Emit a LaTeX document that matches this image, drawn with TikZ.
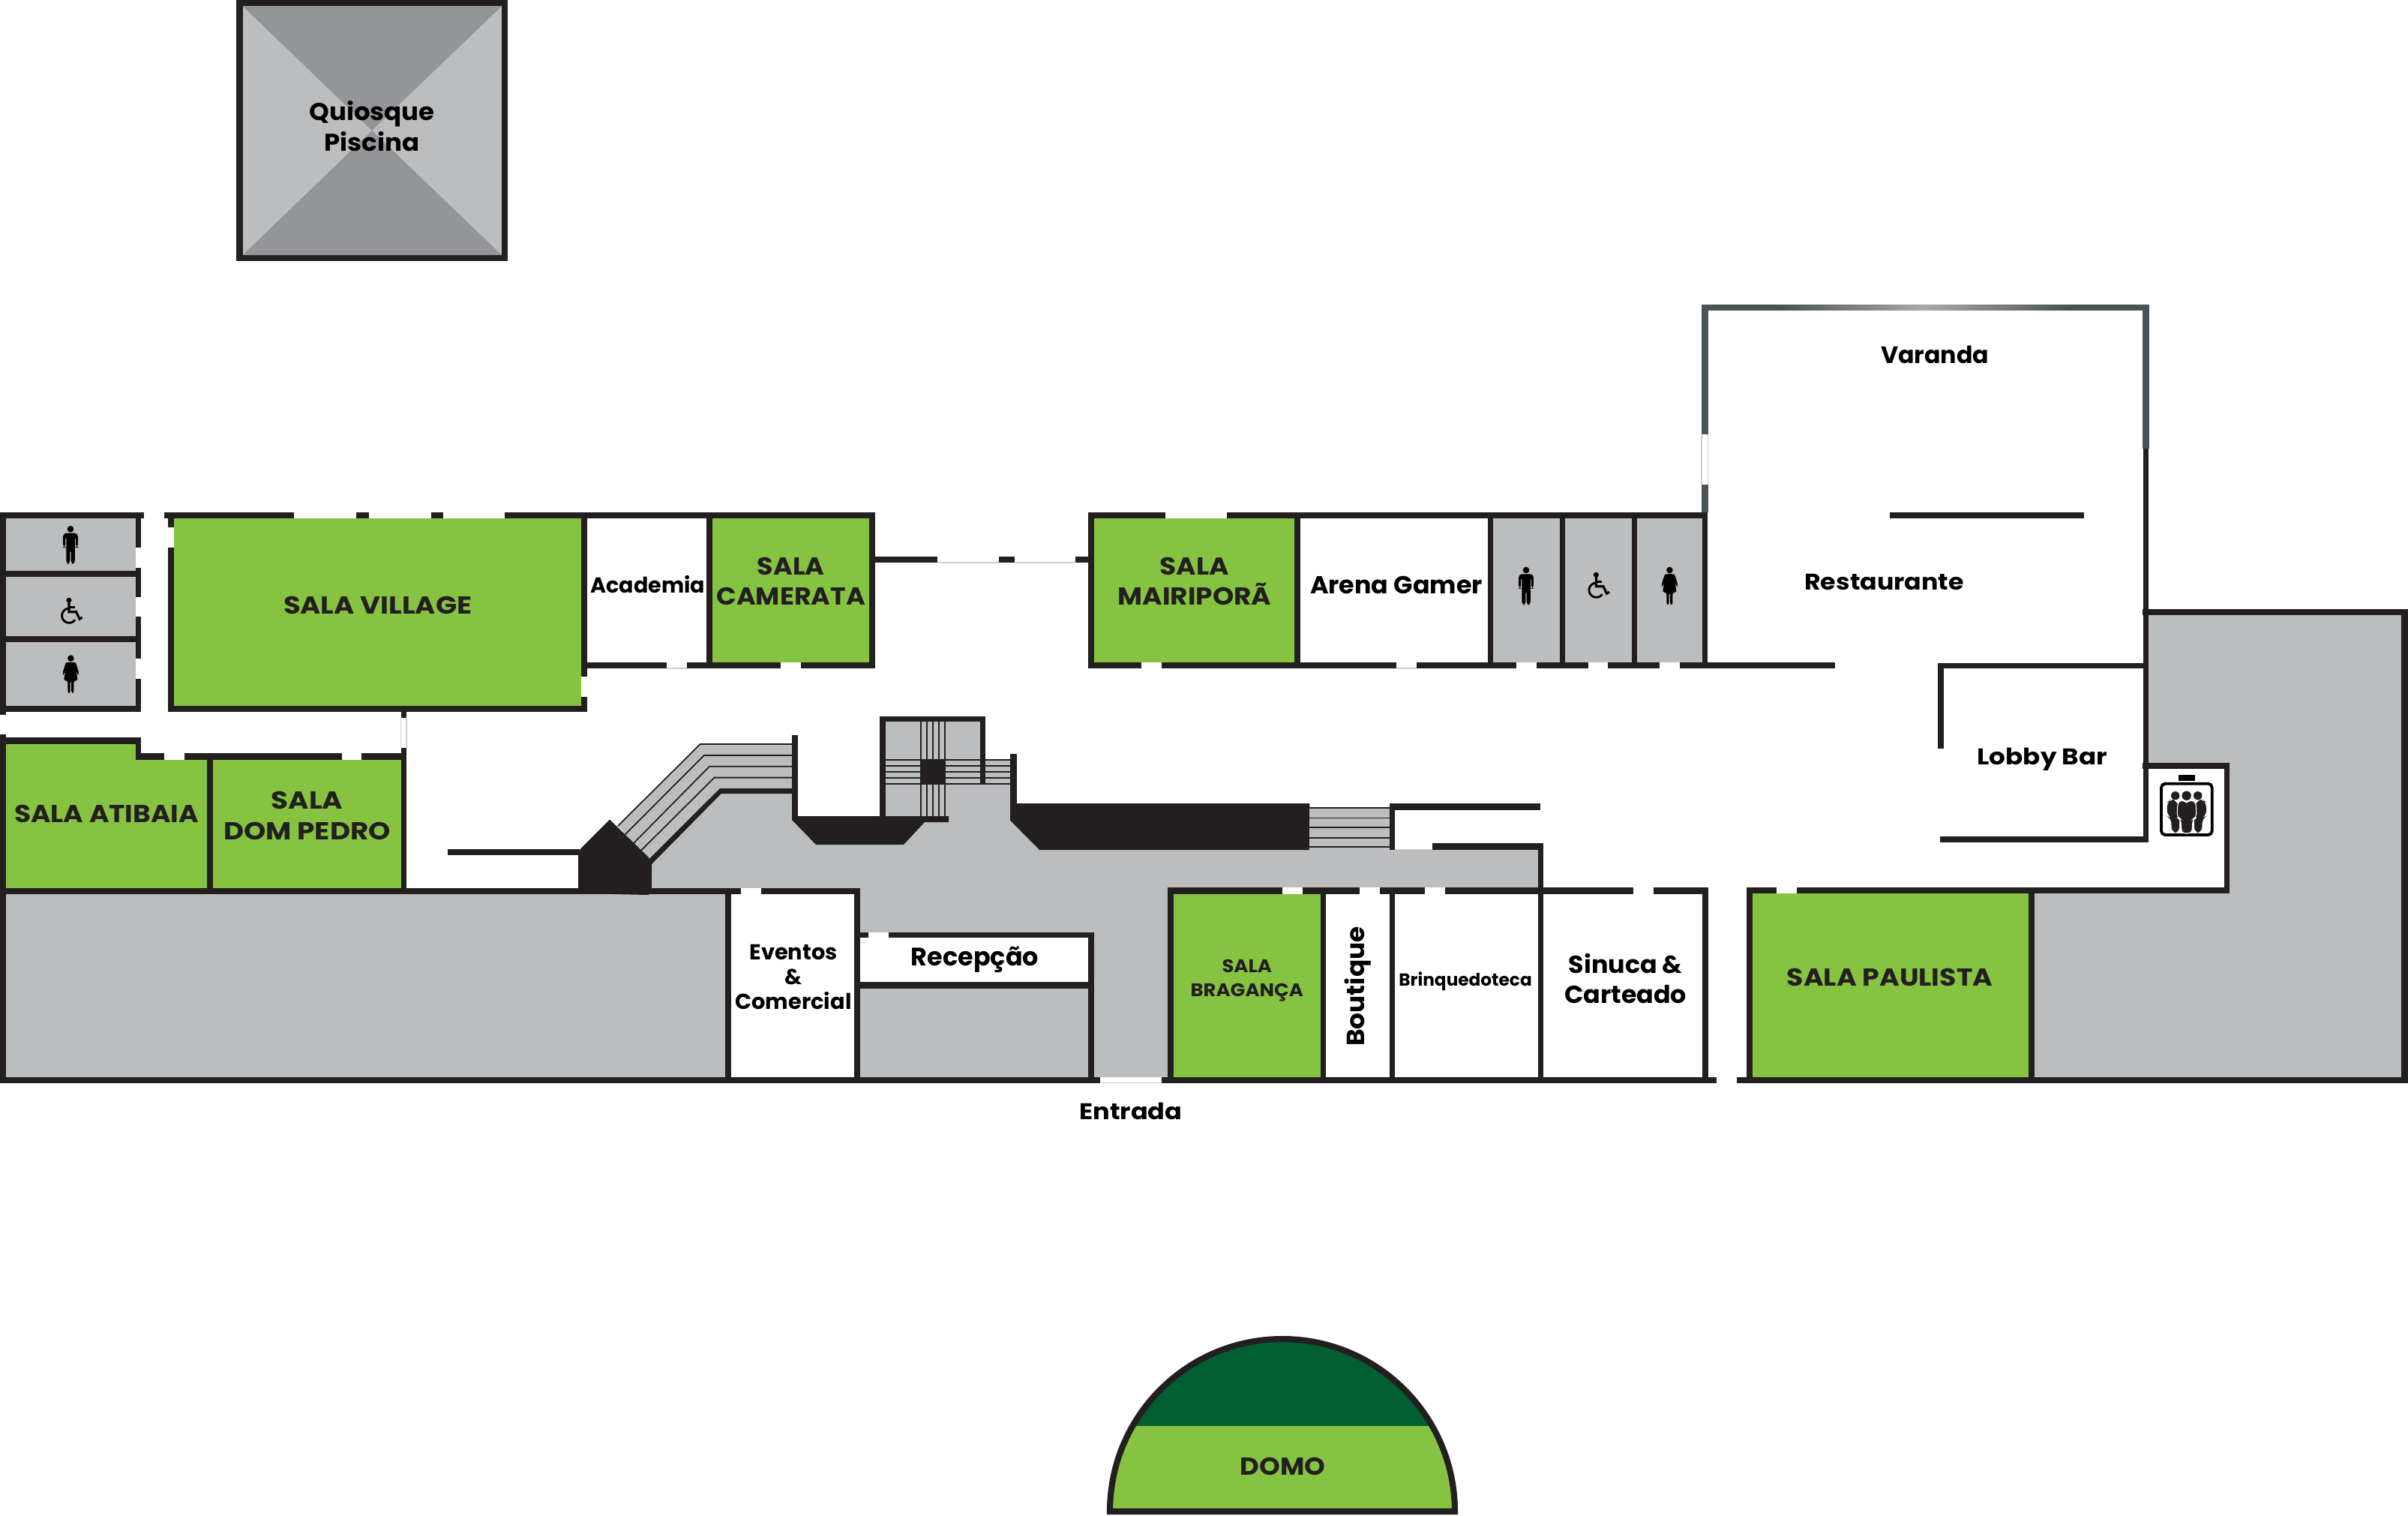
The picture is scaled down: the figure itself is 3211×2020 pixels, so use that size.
\documentclass[tikz,border=0pt]{standalone}
\usepackage{fontspec}
\setmainfont{Poppins Bold}
\definecolor{wallc}{HTML}{231F20}
\definecolor{grayc}{HTML}{BCBDBF}
\definecolor{darkg}{HTML}{939598}
\definecolor{lime}{HTML}{85C341}
\definecolor{forest}{HTML}{005E30}
\definecolor{slate}{HTML}{4A5356}
\definecolor{silver}{HTML}{A9AAAC}
\definecolor{edge}{HTML}{CFCFCF}
\newcommand{\fsz}[3]{\fontsize{#1}{#2}\addfontfeature{FakeStretch=#3}\selectfont}
\newcommand{\wl}[4]{\fill[wallc] (#1,#2) rectangle (#3,#4);}
\newcommand{\slw}[4]{\fill[slate] (#1,#2) rectangle (#3,#4);}
\newcommand{\gp}[4]{\fill[white] (#1,#2) rectangle (#3,#4);}
\newcommand{\gpl}[4]{\fill[white] (#1,#2) rectangle (#3,#4); \draw[edge,line width=.35pt] (#1,#4) -- (#3,#4);}
\newcommand{\gpv}[4]{\fill[white] (#1,#2) rectangle (#3,#4); \draw[edge,line width=.35pt] (#1,#2) -- (#1,#4) (#3,#2) -- (#3,#4);}
\newcommand{\gr}[4]{\fill[grayc] (#1,#2) rectangle (#3,#4);}
\newcommand{\gn}[4]{\fill[lime] (#1,#2) rectangle (#3,#4);}
\tikzset{
  x=0.01cm,y=-0.01cm,
  lab/.style={inner sep=0pt,anchor=base,align=center,text=wallc},
  blk/.style={inner sep=0pt,anchor=base,align=center,text=black},
  steph/.style={wallc,line width=.5pt},
  man/.pic={
    \fill[black] (0,4.3) circle[radius=4.3];
    \fill[black,rounded corners=1.2] (-9.8,9.7) -- (9.8,9.7) -- (9.8,29) -- (6.9,29) -- (6.9,13) -- (5.8,13) -- (5.8,50.7) -- (.6,50.7) -- (.6,31) -- (-.6,31) -- (-.6,50.7) -- (-5.6,50.7) -- (-5.6,13) -- (-6.9,13) -- (-6.9,29) -- (-9.8,29) -- cycle;
  },
  woman/.pic={
    \fill[black] (0,4.3) circle[radius=4.3];
    \fill[black,rounded corners=.8] (-5,9.5) -- (5,9.5) -- (7,11) -- (11.2,25) -- (9,26.5) -- (6.5,18) -- (9.5,34) -- (4,34) -- (4,50.5) -- (.7,50.5) -- (.7,34) -- (-.7,34) -- (-.7,50.5) -- (-4,50.5) -- (-4,34) -- (-9.5,34) -- (-6.5,18) -- (-9,26.5) -- (-11.2,25) -- (-7,11) -- cycle;
  },
  wheel/.pic={
    \fill[black] (-3.6,3.5) circle[radius=3.5];
    \draw[black,line width=.9pt] (-3.6,5) -- (-3.6,19) -- (6,19) -- (10.5,28.5) -- (14,26.5);
    \draw[black,line width=.8pt] (-3.6,13) -- (4,13);
    \draw[black,line width=.8pt] plot[smooth,domain=35:262,samples=24] ({-3.4+9.6*cos(\x)},{24+9.6*sin(\x)});
  },
}
\begin{document}
\begin{tikzpicture}
\useasboundingbox (0,0) rectangle (3211,2020);
\fill[white] (0,0) rectangle (3211,2020);

% ----- Quiosque
\fill[wallc] (315.3,0) rectangle (677,348.3);
\fill[grayc] (323.7,8.3) rectangle (669,340);
\fill[darkg] (323.7,8.3) -- (669,8.3) -- (496,174) -- cycle;
\fill[darkg] (323.7,340) -- (669,340) -- (496,174) -- cycle;
\node[blk,font=\fsz{9.2}{11.4}{1.05}] (quiosque) at (496,201) {Quiosque\\Piscina};

% ----- gray and green floors
\gr{8}{691}{181}{761} \gr{8}{769}{181}{848} \gr{8}{856}{181}{941}
\gn{232}{691}{775}{941}
\fill[lime] (8,991.6) -- (181,991.6) -- (181,1012.5) -- (276,1012.5) -- (276,1184) -- (8,1184) -- cycle;
\gn{284}{1012.5}{535}{1184}
\gr{8}{1191}{967}{1436}
\gr{1147}{1317}{1451}{1436}
\gn{950}{691}{1160}{884}
\gn{1459}{691}{1726}{884}
\gr{1991}{691}{2080}{884} \gr{2087}{691}{2176}{884} \gr{2182}{691}{2271}{884}
\fill[grayc] (869,1152) -- (961.7,1058) -- (1056,1058) -- (1056,1093) -- (1088,1126) -- (1205,1126) -- (1233,1096) -- (1265,1096) -- (1265,1045) -- (1348,1045) -- (1348,1094) -- (1386,1133) -- (2051,1133) -- (2051,1184) -- (1557,1184) -- (1557,1436) -- (1459,1436) -- (1459,1243) -- (1147,1243) -- (1147,1184) -- (869,1184) -- cycle;
\gn{1564.8}{1191}{1761}{1436}
\gn{2336.5}{1191}{2705}{1436}
\fill[grayc] (2865,819.6) -- (3203,819.6) -- (3203,1436) -- (2712,1436) -- (2712,1191) -- (2972,1191) -- (2972,1017) -- (2865,1017) -- cycle;

% ----- stairs, left flight
\fill[grayc] (824,1101) -- (933.7,992) -- (1057,992) -- (1057,1058) -- (961,1058) -- (869,1152) -- cycle;
\draw[steph] (824,1101) -- (933.7,992) -- (1057,992);
\draw[steph] (833.7,1112.4) -- (938.8,1007) -- (1057,1007);
\draw[steph] (845,1124) -- (946,1021.7) -- (1057,1021.7);
\draw[steph] (854.6,1134) -- (952.6,1036.6) -- (1057,1036.6);
\fill[wallc] (865.8,1145) -- (960,1051) -- (1057,1051) -- (1057,1058) -- (961.7,1058) -- (869,1152) -- cycle;
\fill[wallc] (771,1191) -- (771,1139.6) -- (774,1131.5) -- (813,1092.5) -- (865,1143) -- (869,1151) -- (869,1184) -- (865,1193) -- cycle;
\wl{1056}{979.6}{1064}{1093}
\fill[wallc] (1056,1093) -- (1088,1126) -- (1205,1126) -- (1233,1096) -- (1265,1096) -- (1265,1088) -- (1064,1088) -- (1056,1088) -- cycle;

% ----- stairs, central well
\gr{1181}{962}{1307}{1088}
\gr{1306}{1013}{1348}{1045}
\foreach \q in {1228,1236,1244,1252,1260} {\draw[wallc,line width=.55pt] (\q,962) -- (\q,1088);}
\foreach \q in {1013,1021,1029,1037,1045.4} {\draw[wallc,line width=.55pt] (1181,\q) -- (1348,\q);}
\fill[wallc] (1226.5,1013) rectangle (1260.7,1045.4);
\wl{1173}{954.7}{1314}{962.4} \wl{1173}{954.7}{1181}{1088} \wl{1306.6}{954.7}{1314}{1045.4}
\wl{1347.4}{1005}{1355.6}{1094}
\fill[wallc] (1347.4,1094) -- (1386,1133) -- (1746.4,1133) -- (1746.4,1071) -- (1355.6,1071) -- (1347.4,1071) -- cycle;

% ----- stairs, right flight
\gr{1746}{1077}{1853}{1133}
\foreach \q in {1077,1090.4,1103.3,1116.7,1129} {\draw[wallc,line width=.5pt] (1746,\q) -- (1853,\q);}

% ----- west wing walls
\wl{0}{683}{1167}{691}
\gp{192}{683}{219}{691} \gp{392}{683}{474.5}{691} \gp{492}{683}{574.5}{691} \gp{591}{683}{673}{691}
\wl{0}{683}{8}{1443.5} \gp{0}{953}{8}{979}
\wl{180.6}{691}{188.3}{949}
\gp{180.6}{730.4}{188.3}{757} \gp{180.6}{795.7}{188.3}{822} \gp{180.6}{878}{188.3}{905}
\wl{0}{761}{188}{769} \wl{0}{848}{188}{856} \wl{0}{940.6}{188}{949}
\wl{223.5}{683}{232}{949} \gp{223.5}{703}{232}{730}
\wl{223.5}{940.6}{783}{949}
\wl{775}{683}{783}{949} \gp{775}{902}{783}{929}
\wl{534.7}{949}{542}{1191} \gpv{534.7}{957}{542}{997}
\wl{0}{983}{188}{991.6} \wl{180.6}{983}{188.3}{1012.5}
\wl{180.6}{1004}{542}{1012.5} \gp{219}{1004}{246}{1012.5} \gp{455.6}{1004}{482}{1012.5}
\wl{276}{1004}{284}{1191}
\wl{0}{1183.5}{1147.4}{1191.6}
\wl{597}{1132}{773}{1140}
\wl{942}{683}{950}{891} \wl{1159.3}{683}{1167}{891}
\wl{783}{883.3}{1167}{891}
\gpl{888.7}{883.3}{915.7}{891} \gp{1041}{883.3}{1068}{891}
\wl{1167}{742}{1451}{750}
\gpl{1250}{742}{1332}{750} \gpl{1352.5}{742}{1434}{750}

% ----- bottom wall and south rooms
\wl{0}{1435.6}{3211}{1443.5}
\gpl{1466.8}{1435.6}{1549}{1443.5} \gp{2288.8}{1435.6}{2315.5}{1443.5}
\wl{966.8}{1183.6}{975}{1443} \wl{1139.3}{1183.6}{1147.4}{1443}
\gp{987.8}{1183.6}{1014.8}{1191.6}
\wl{1147}{1242.5}{1459}{1250} \gp{1158}{1242.5}{1185}{1250}
\wl{1147}{1309}{1459}{1317.5}
\wl{1451}{1242.5}{1459}{1443}
\wl{1557}{1183.3}{2278}{1191.7}
\gp{1710}{1183.3}{1737}{1191.7} \gp{1812.8}{1183.3}{1840}{1191.7} \gp{1899.5}{1183.3}{1926.5}{1191.7} \gp{2178.4}{1183.3}{2205}{1191.7}
\wl{1557}{1183}{1564.8}{1443} \wl{1761}{1183}{1768.4}{1443} \wl{1852.5}{1183}{1860}{1443} \wl{2050.5}{1183}{2058}{1443} \wl{2269.6}{1183}{2278}{1443}
\wl{1852.5}{1071}{1860}{1133} \wl{1852.5}{1071}{2054}{1079.5}
\wl{1910}{1124.4}{2058}{1132.8} \wl{2050.5}{1124.4}{2058}{1184}
\gpl{1860}{1124.4}{1910}{1132.8}

% ----- north-east wing walls
\wl{1451}{683}{2277}{691} \gp{1554}{683}{1636}{691}
\wl{1451}{883.3}{2447}{891}
\gp{1522}{883.3}{1549}{891} \gpl{1862}{883.3}{1889}{891} \gp{2022}{883.3}{2048.8}{891} \gp{2118}{883.3}{2144}{891} \gp{2212.7}{883.3}{2239.5}{891}
\wl{1451}{683}{1459}{891} \wl{1726}{683}{1734}{891} \wl{1983.6}{683}{1991}{891} \wl{2079.8}{683}{2087}{891} \wl{2176}{683}{2182.6}{891} \wl{2270.4}{683}{2277}{891}

% ----- varanda and restaurant
\slw{2269}{405.7}{2277.8}{683} \gpv{2269}{579}{2277.8}{645.7}
\slw{2857}{405.7}{2866}{598}
\slw{2269}{405.7}{2866}{414.3}
\foreach \i in {0,...,95} {
  \pgfmathsetmacro{\mx}{max(0,100-abs(\i-47.5)*100/48)}
  \pgfmathsetmacro{\xa}{2374+\i*4}
  \pgfmathsetmacro{\xb}{\xa+4.6}
  \fill[silver!\mx!slate] (\xa,405.7) rectangle (\xb,414.3);
}
\wl{2857.5}{598}{2865}{1123}
\wl{2520}{683}{2779}{691}
\wl{2584}{883.6}{2865}{891}
\wl{2584}{883.6}{2592}{998}
\wl{2587}{1115}{2865}{1123}

% ----- east wing walls
\wl{2857}{811.5}{3211}{819.6}
\wl{3202}{811.5}{3211}{1443.5}
\wl{2857}{1017}{2972.7}{1025}
\wl{2966}{1017}{2972.7}{1191}
\wl{2329}{1183.3}{2972.7}{1191} \gp{2369}{1183.3}{2396}{1191}
\wl{2329}{1183}{2336.5}{1443}
\wl{2705}{1183}{2712.7}{1443}

% ----- lift icon
\fill[black] (2905,1033.3) rectangle (2926.7,1041);
\draw[black,line width=1.1pt,rounded corners=1.5] (2882,1044.7) rectangle (2949.7,1113);
\fill[wallc,rounded corners=2] (2889.5,1070) -- (2894,1066) -- (2902,1066) -- (2906,1078) -- (2906,1110) -- (2896,1110) -- (2895,1090) -- (2890,1088) -- cycle;
\fill[wallc,rounded corners=2] (2942,1070) -- (2937.5,1066) -- (2930,1066) -- (2926,1078) -- (2926,1110) -- (2936,1110) -- (2937,1090) -- (2942,1088) -- cycle;
\fill[wallc,draw=white,line width=.3pt,rounded corners=1.5] (2904,1068) -- (2912,1066.5) -- (2915.7,1070) -- (2919.5,1066.5) -- (2928,1068) -- (2929,1090) -- (2924,1092) -- (2923,1111) -- (2909,1111) -- (2908,1092) -- (2903,1090) -- cycle;
\fill[wallc] (2900.7,1060.7) circle[radius=5.7];
\fill[wallc] (2930.7,1060.7) circle[radius=5.7];
\fill[wallc] (2915.7,1060.7) circle[radius=6.2];

% ----- toilets
\pic at (94,701) {man};
\pic at (95.6,796.7) {wheel};
\pic at (94.4,873.3) {woman};
\pic at (2035,755.7) {man};
\pic at (2132,762.7) {wheel};
\pic at (2226.4,755.7) {woman};

% ----- dome
\fill[lime] (1480,2015) .. controls (1480,1888) and (1583,1785) .. (1710,1785) .. controls (1837,1785) and (1940,1888) .. (1940,2015) -- cycle;
\begin{scope}
\clip (1470,1770) rectangle (1950,1900);
\fill[forest] (1480,2015) .. controls (1480,1888) and (1583,1785) .. (1710,1785) .. controls (1837,1785) and (1940,1888) .. (1940,2015) -- cycle;
\end{scope}
\draw[wallc,line width=2.3pt] (1480,2015) .. controls (1480,1888) and (1583,1785) .. (1710,1785) .. controls (1837,1785) and (1940,1888) .. (1940,2015) -- cycle;

% ----- labels
\node[lab,font=\fsz{9.3}{11.4}{1.13}] (village) at (503.6,818) {SALA VILLAGE};
\node[lab,font=\fsz{9.3}{11.4}{1.10}] (atibaia) at (142,1096) {SALA ATIBAIA};
\node[lab,font=\fsz{9.3}{11.4}{1.14}] (dompedro) at (409.5,1119) {SALA\\DOM PEDRO};
\node[blk,font=\fsz{8.2}{9.4}{0.99}] (academia) at (864,790.7) {Academia};
\node[lab,font=\fsz{9.3}{11.4}{1.07}] (camerata) at (1054.8,806.7) {SALA\\CAMERATA};
\node[lab,font=\fsz{9.3}{11.4}{1.10}] (mairipora) at (1593,806.7) {SALA\\MAIRIPORÃ};
\node[blk,font=\fsz{9.3}{11.4}{1.02}] (arena) at (1862,791) {Arena Gamer};
\node[blk,font=\fsz{8.6}{11.4}{1.10}] (restaurante) at (2512.5,786) {Restaurante};
\node[blk,font=\fsz{9.0}{11.4}{1.0}] (varanda) at (2580,484) {Varanda};
\node[blk,font=\fsz{8.6}{11.4}{1.13}] (lobby) at (2723.5,1019.5) {Lobby Bar};
\node[blk,font=\fsz{8.2}{9.4}{1.0}] (eventos) at (1058,1345.8) {Eventos\\\&\\Comercial};
\node[blk,font=\fsz{9.6}{11.4}{0.99}] (recepcao) at (1300,1287) {Recepção};
\node[blk,font=\fsz{8.6}{11.4}{1.11}] (entrada) at (1507.8,1492) {Entrada};
\node[lab,font=\fsz{6.9}{8.9}{1.07}] (braganca) at (1662.8,1328) {SALA\\BRAGANÇA};
\node[blk,rotate=90,font=\fsz{9.4}{11.4}{1.04}] (boutique) at (1819,1315) {Boutique};
\node[blk,font=\fsz{6.6}{8}{1.0}] (brinquedoteca) at (1954,1314) {Brinquedoteca};
\node[blk,font=\fsz{9.3}{11.2}{1.02}] (sinuca) at (2167.6,1337) {Sinuca \&\\Carteado};
\node[lab,font=\fsz{9.3}{11.4}{1.11}] (paulista) at (2520,1314) {SALA PAULISTA};
\node[lab,font=\fsz{9.3}{11.4}{1.08}] (domo) at (1710.6,1966) {DOMO};
\end{tikzpicture}
\end{document}
